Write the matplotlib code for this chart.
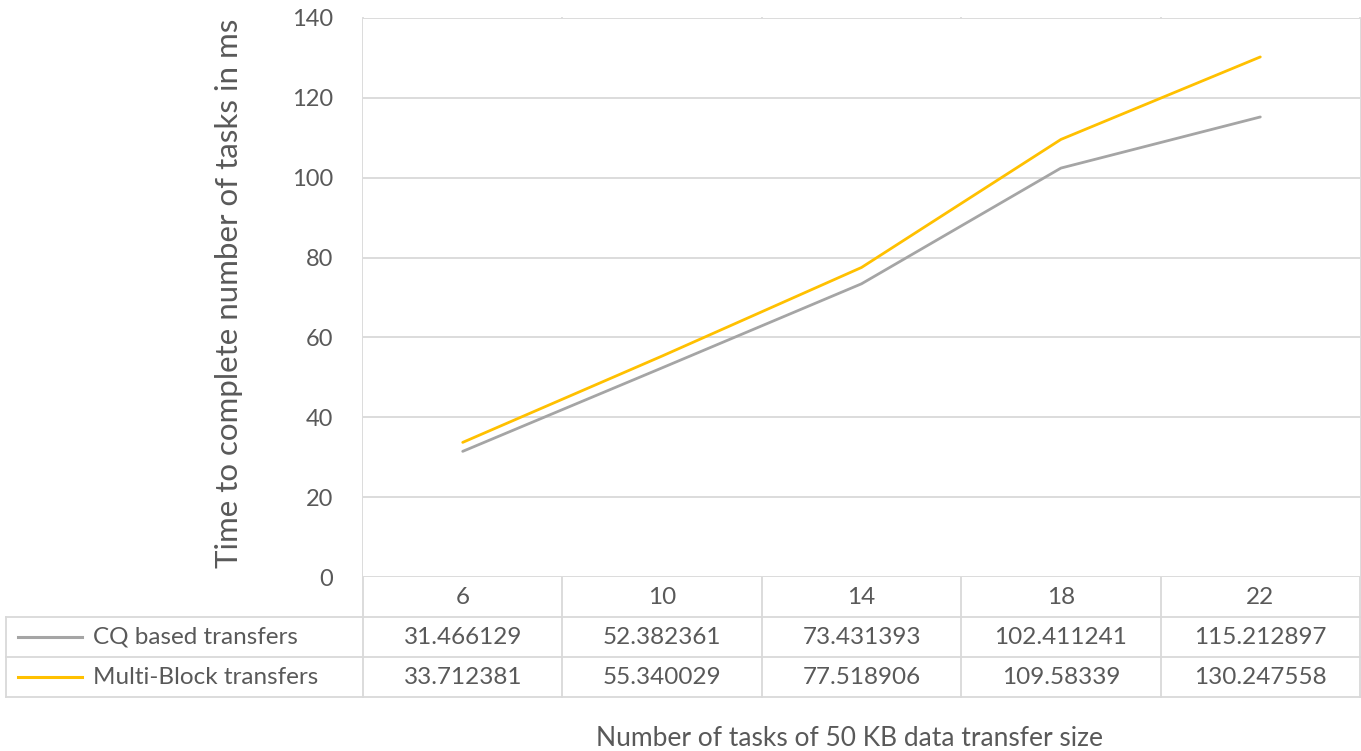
import numpy as np
import matplotlib
matplotlib.use("Agg")
import matplotlib.pyplot as plt
from matplotlib.lines import Line2D
from matplotlib.transforms import blended_transform_factory

plt.rcParams['font.family'] = ['Lato', 'DejaVu Sans']

tasks = ["6", "10", "14", "18", "22"]
cq = [31.466129, 52.382361, 73.431393, 102.411241, 115.212897]
mb = [33.712381, 55.340029, 77.518906, 109.58339, 130.247558]
cq_txt = ["31.466129", "52.382361", "73.431393", "102.411241", "115.212897"]
mb_txt = ["33.712381", "55.340029", "77.518906", "109.58339", "130.247558"]
series = ["CQ based transfers", "Multi-Block transfers"]
colors = ["#a5a5a5", "#ffc000"]

W, H = 1361, 751
txt_col = "#595959"
grid_col = "#d9d9d9"
fs = 17.5

fig = plt.figure(figsize=(W / 100, H / 100), dpi=100)
L, R, T, B = 363, 1360, 18, 577
ax = fig.add_axes([L / W, 1 - B / H, (R - L) / W, (B - T) / H])

def fy(py):
    return 1 - py / H

def fx(px):
    return px / W

x = np.arange(len(tasks))
ax.plot(x, cq, color=colors[0], lw=2.0, solid_capstyle='round')
ax.plot(x, mb, color=colors[1], lw=2.0, solid_capstyle='round')

ax.set_xlim(-0.5, len(tasks) - 0.5)
ax.set_ylim(0, 140)
ax.set_yticks(np.arange(0, 141, 20))
ax.set_xticks([])
ax.tick_params(axis='y', length=0, labelsize=17, labelcolor=txt_col, pad=21.5)
for v in np.arange(0, 141, 20):
    ax.axhline(v, color=grid_col, lw=1.3, zorder=0)
for s in ax.spines.values():
    s.set_visible(False)

# data table under the plot
bt = blended_transform_factory(ax.transData, fig.transFigure)
rows_y = [577, 617, 657, 697]
for i in range(len(tasks) + 1):
    xb = i - 0.5
    fig.add_artist(Line2D([xb, xb], [fy(T), fy(rows_y[-1])], transform=bt,
                          color=grid_col, lw=1.3, zorder=0))
for py in rows_y[1:]:
    fig.add_artist(Line2D([fx(6), fx(R)], [fy(py), fy(py)], color=grid_col, lw=1.3))
fig.add_artist(Line2D([fx(6), fx(6)], [fy(rows_y[1]), fy(rows_y[-1])], color=grid_col, lw=1.3))

for i, t in enumerate(tasks):
    fig.text(i, fy(597), t, transform=bt, ha='center', va='center',
             fontsize=fs, color=txt_col)
for r, vals in enumerate([cq_txt, mb_txt]):
    yc = fy((rows_y[r + 1] + rows_y[r + 2]) / 2)
    for i, v in enumerate(vals):
        fig.text(i, yc, v, transform=bt, ha='center', va='center',
                 fontsize=fs, color=txt_col)
    fig.add_artist(Line2D([fx(18), fx(82)], [yc, yc], color=colors[r], lw=2.2))
    fig.text(fx(93), yc, series[r], ha='left', va='center', fontsize=fs, color=txt_col)

fig.text(fx(850), fy(738), "Number of tasks of 50 KB data transfer size",
         ha='center', va='center', fontsize=19, color=txt_col)
fig.text(fx(229), fy(293), "Time to complete number of tasks in ms", rotation=90,
         ha='center', va='center', fontsize=22.5, color=txt_col)

fig.savefig("out.png", dpi=100, facecolor='white')
